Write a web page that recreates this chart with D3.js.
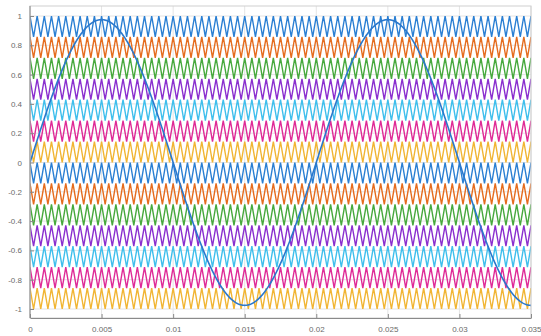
<!DOCTYPE html>
<html>
<head>
<meta charset="utf-8">
<script src="https://cdn.jsdelivr.net/npm/d3@7"></script>
<style>
  html, body { margin: 0; padding: 0; background: #ffffff; }
  svg { display: block; }
  .tick text { font-family: "Liberation Sans", Arial, sans-serif; font-size: 8px; fill: #6a6a6a; }
</style>
</head>
<body>
<svg id="chart" width="541" height="336"></svg>
<script>
// Phase-disposition PWM: 14 stacked triangular carriers and a 50 Hz reference
const xTicks = [0, 0.005, 0.01, 0.015, 0.02, 0.025, 0.03, 0.035];
const yTicks = [-1, -0.8, -0.6, -0.4, -0.2, 0, 0.2, 0.4, 0.6, 0.8, 1];
const carrierColors = ["#2a7fd3", "#e56c1e", "#47a93d", "#8a2fcf", "#3fbfec", "#df2b97", "#f1b533"];
// lower edge of each carrier band, from top to bottom
const bandBottoms = [6/7, 5/7, 4/7, 3/7, 2/7, 1/7, 0, -1/7, -2/7, -3/7, -4/7, -5/7, -6/7, -1];
const bandHeight = [1/7];
const carrierFreq = [2000];   // Hz
const refFreq = [50];         // Hz
const refAmp = [0.975];
const tEnd = [0.035];

const svg = d3.select("#chart");
const box = { left: 30, right: 531, top: 6, bottom: 318 };

const x = d3.scaleLinear().domain([0, tEnd[0]]).range([box.left, box.right]);
const y = d3.scaleLinear().domain([-1, 1]).range([309, 16]);

// grid
const grid = svg.append("g");
grid.selectAll("line.v").data(xTicks).join("line")
  .attr("x1", d => x(d)).attr("x2", d => x(d))
  .attr("y1", box.top).attr("y2", box.bottom)
  .attr("stroke", "#e4e4e4").attr("stroke-width", 1);
grid.selectAll("line.h").data(yTicks).join("line")
  .attr("y1", d => y(d)).attr("y2", d => y(d))
  .attr("x1", box.left).attr("x2", box.right)
  .attr("stroke", "#e4e4e4").attr("stroke-width", 1);

// carriers: vertices at every half period
const halfPeriod = 0.5 / carrierFreq[0];
const nHalf = Math.round(tEnd[0] / halfPeriod);
const carrierLine = d3.line().x(d => x(d[0])).y(d => y(d[1]));

const clip = svg.append("clipPath").attr("id", "plotClip")
  .append("rect").attr("x", box.left).attr("y", box.top)
  .attr("width", box.right - box.left).attr("height", box.bottom - box.top);

const plot = svg.append("g").attr("clip-path", "url(#plotClip)");

bandBottoms.forEach((b, i) => {
  const pts = d3.range(nHalf + 1).map(k => [k * halfPeriod, (k % 2 === 0) ? b + bandHeight[0] : b]);
  plot.append("path")
    .attr("d", carrierLine(pts))
    .attr("fill", "none")
    .attr("stroke", carrierColors[i % carrierColors.length])
    .attr("stroke-width", 1.4)
    .attr("stroke-linejoin", "miter");
});

// reference sine
const tSamples = d3.range(0, 1001).map(k => k * tEnd[0] / 1000);
const refLine = d3.line()
  .x(t => x(t))
  .y(t => y(refAmp[0] * Math.sin(2 * Math.PI * refFreq[0] * t)));
plot.append("path")
  .attr("d", refLine(tSamples))
  .attr("fill", "none")
  .attr("stroke", "#2a78cc")
  .attr("stroke-width", 1.6);

// box
svg.append("rect")
  .attr("x", box.left).attr("y", box.top)
  .attr("width", box.right - box.left).attr("height", box.bottom - box.top)
  .attr("fill", "none").attr("stroke", "#cfcfcf").attr("stroke-width", 1);

// axes
const xAxis = d3.axisBottom(x).tickValues(xTicks).tickSizeInner(-4).tickSizeOuter(0)
  .tickPadding(8).tickFormat(d => d === 0 ? "0" : String(+d.toFixed(3)));
const gx = svg.append("g").attr("transform", `translate(0,${box.bottom})`).call(xAxis);
gx.select(".domain").attr("stroke", "#8a8a8a");
gx.selectAll(".tick line").attr("stroke", "#8a8a8a");

const yAxis = d3.axisLeft(y).tickValues(yTicks).tickSizeInner(-4).tickSizeOuter(0)
  .tickPadding(8).tickFormat(d => String(+d.toFixed(1)));
const gy = svg.append("g").attr("transform", `translate(${box.left},0)`).call(yAxis);
gy.select(".domain").attr("d", `M0,${box.top}V${box.bottom}`).attr("stroke", "#8a8a8a");
gy.selectAll(".tick line").attr("stroke", "#8a8a8a");
</script>
</body>
</html>
